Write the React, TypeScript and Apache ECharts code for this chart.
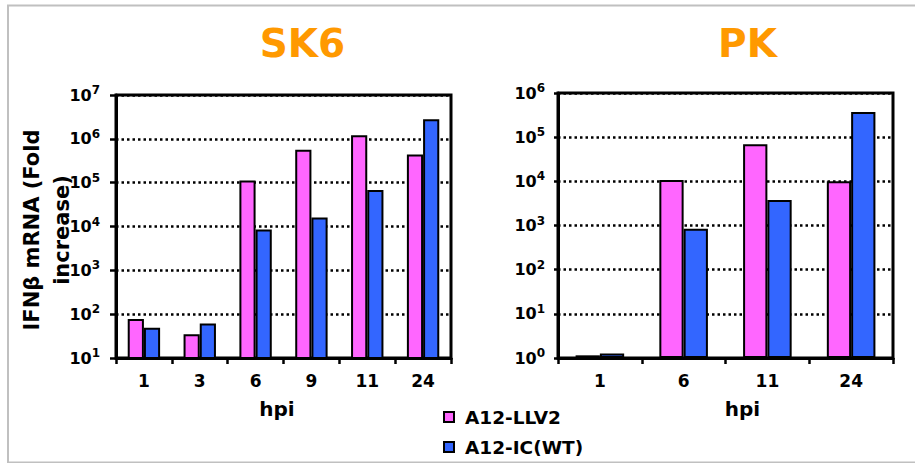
import React, { useEffect, useRef } from "react";
import * as echarts from "echarts";

// ---- Data ----
const skCategories = ["1", "3", "6", "9", "11", "24"];
const skLLV2 = [78, 35, 112000, 560000, 1200000, 440000];
const skIC = [49, 61, 8500, 16000, 68000, 2800000];

const pkCategories = ["1", "6", "11", "24"];
const pkLLV2 = [1.15, 10700, 69000, 10000];
const pkIC = [1.27, 840, 3800, 370000];

const seriesNames = ["A12-LLV2", "A12-IC(WT)"];
const titles = ["SK6", "PK"];
const xAxisTitle = "hpi";
const yAxisTitle = "IFNβ mRNA (Fold\nincrease)";

const FONT = "DejaVu Sans";
const PINK = "#FF66FF";
const BLUE = "#3366FF";
const ORANGE = "#FF9900";

export default function App() {
  const ref = useRef<HTMLDivElement>(null);

  useEffect(() => {
    if (!ref.current) return;
    const chart = echarts.init(ref.current, undefined, { renderer: "svg" });

    const supFormatter = (v: number) =>
      `{b|10}{s|${Math.round(Math.log10(v))}}`;
    const rich = {
      b: { fontSize: 16, fontWeight: "bold", fontFamily: FONT, color: "#000", lineHeight: 22 },
      s: { fontSize: 12, fontWeight: "bold", fontFamily: FONT, color: "#000", verticalAlign: "top", lineHeight: 14 },
    };

    const yAxisBase = (min: number, max: number, gridIndex: number, tickLen: number, margin: number) => ({
      type: "log",
      logBase: 10,
      min,
      max,
      gridIndex,
      axisLine: { show: true, lineStyle: { color: "#000", width: 3 } },
      axisTick: { show: true, length: tickLen, lineStyle: { color: "#000", width: 2.5 } },
      axisLabel: { formatter: supFormatter, rich, margin },
      splitLine: { show: true, lineStyle: { color: "#000", width: 2.5, type: [2.5, 3] } },
      minorTick: { show: false },
    });

    const xAxisBase = (data: string[], gridIndex: number) => ({
      type: "category",
      data,
      gridIndex,
      axisLine: { show: true, lineStyle: { color: "#000", width: 3 } },
      axisTick: { show: true, length: 6, lineStyle: { color: "#000", width: 2.5 } },
      axisLabel: { fontSize: 17, fontWeight: "bold", fontFamily: FONT, color: "#000", margin: 14 },
      splitLine: { show: false },
    });

    const barBase = (name: string, color: string, data: number[], idx: number) => ({
      type: "bar",
      name,
      data,
      xAxisIndex: idx,
      yAxisIndex: idx,
      barWidth: "29%",
      barGap: "0%",
      itemStyle: { color, borderColor: "#000", borderWidth: 2 },
    });

    const option = {
      animation: false,
      textStyle: { fontFamily: FONT },
      grid: [
        { left: 116, top: 95, width: 335, height: 263, show: true, borderColor: "#000", borderWidth: 3, backgroundColor: "transparent" },
        { left: 558, top: 93, width: 335, height: 265, show: true, borderColor: "#000", borderWidth: 3, backgroundColor: "transparent" },
      ],
      xAxis: [xAxisBase(skCategories, 0), xAxisBase(pkCategories, 1)],
      yAxis: [yAxisBase(10, 1e7, 0, 6, 16), yAxisBase(1, 1e6, 1, 4, 13)],
      legend: {
        orient: "vertical",
        left: 443,
        top: 407,
        padding: 0,
        itemWidth: 10,
        itemHeight: 10,
        itemGap: 10,
        icon: "rect",
        data: seriesNames,
        textStyle: { fontSize: 18.5, fontWeight: "bold", fontFamily: FONT, color: "#000", lineHeight: 20, padding: [0, 0, 0, 6] },
      },
      series: [
        barBase(seriesNames[0], PINK, skLLV2, 0),
        barBase(seriesNames[1], BLUE, skIC, 0),
        barBase(seriesNames[0], PINK, pkLLV2, 1),
        barBase(seriesNames[1], BLUE, pkIC, 1),
      ],
      graphic: [
        {
          type: "rect",
          shape: { x: 8, y: 5.5, width: 1000, height: 457 },
          style: { fill: "none", stroke: "#C0C0C0", lineWidth: 2 },
          silent: true,
        },
        {
          type: "text",
          x: 302.5,
          y: 43,
          style: { text: titles[0], fill: ORANGE, fontSize: 39, fontWeight: "bold", fontFamily: FONT, align: "center", verticalAlign: "middle", textAlign: "center", textVerticalAlign: "middle" },
        },
        {
          type: "text",
          x: 747.5,
          y: 43,
          style: { text: titles[1], fill: ORANGE, fontSize: 39, fontWeight: "bold", fontFamily: FONT, align: "center", verticalAlign: "middle", textAlign: "center", textVerticalAlign: "middle" },
        },
        {
          type: "text",
          x: 277,
          y: 409,
          style: { text: xAxisTitle, fill: "#000", fontSize: 20, fontWeight: "bold", fontFamily: FONT, align: "center", verticalAlign: "middle", textAlign: "center", textVerticalAlign: "middle" },
        },
        {
          type: "text",
          x: 742.5,
          y: 409,
          style: { text: xAxisTitle, fill: "#000", fontSize: 20, fontWeight: "bold", fontFamily: FONT, align: "center", verticalAlign: "middle", textAlign: "center", textVerticalAlign: "middle" },
        },
        {
          type: "text",
          x: 47,
          y: 230,
          rotation: Math.PI / 2,
          style: { text: yAxisTitle, fill: "#000", fontSize: 21, fontWeight: "bold", fontFamily: FONT, lineHeight: 30, align: "center", verticalAlign: "middle", textAlign: "center", textVerticalAlign: "middle" },
        },
      ],
    };

    chart.setOption(option as any);
    return () => chart.dispose();
  }, []);

  return (
    <div
      ref={ref}
      style={{ position: "fixed", left: 0, top: 0, width: 915, height: 463, background: "#fff" }}
    />
  );
}
